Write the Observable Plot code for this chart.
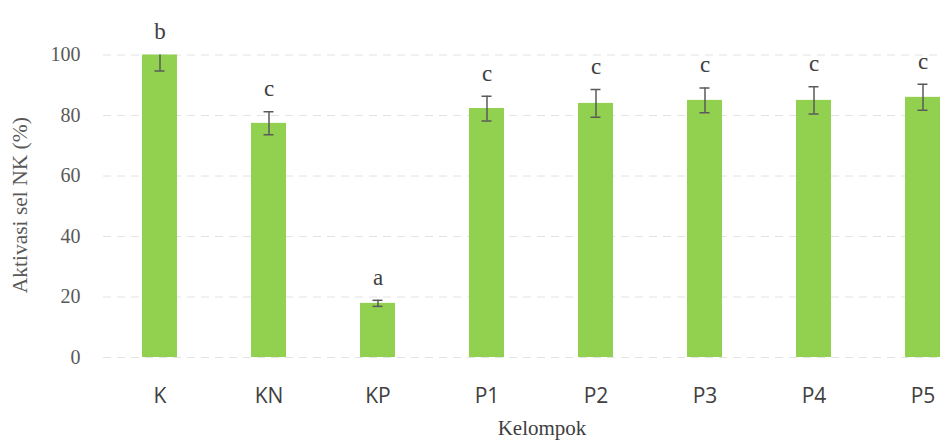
<!DOCTYPE html>
<html><head><meta charset="utf-8">
<script src="https://cdn.jsdelivr.net/npm/d3@7"></script>
<script src="https://cdn.jsdelivr.net/npm/@observablehq/plot@0.6"></script>
<style>html,body{margin:0;padding:0;background:#fff;overflow:hidden}</style>
</head><body><div id="chart"></div>
<script>
const groups = ["K", "KN", "KP", "P1", "P2", "P3", "P4", "P5"];
const means = [100, 77.4, 17.9, 82.3, 84.0, 85.0, 85.0, 86.0];
const sds = [5.3, 3.8, 1.0, 4.1, 4.6, 4.1, 4.5, 4.3];
const letters = ["b", "c", "a", "c", "c", "c", "c", "c"];
const yTicks = [0, 20, 40, 60, 80, 100];
const yLabel = "Aktivasi sel NK (%)";
const xLabel = "Kelompok";

const data = groups.map((g, i) => ({
  group: g, mean: means[i], sd: sds[i], letter: letters[i],
  lo: means[i] - sds[i], hi: means[i] + sds[i],
  top: Math.min(means[i] + sds[i], 100)
}));
const serif = "'Liberation Serif', 'Times New Roman', serif";
const errColor = "#5a5a5a";
const chart = Plot.plot({
  width: 942, height: 447,
  marginLeft: 103, marginRight: 0, marginTop: 54.5, marginBottom: 90,
  style: {background: "#fff", overflow: "hidden"},
  x: {domain: groups, range: [102.7, 979.5], paddingInner: 0.68, paddingOuter: 0.34},
  y: {domain: [0, 100], ticks: yTicks},
  marks: [
    Plot.gridY(yTicks, {stroke: "#e2e2e2", strokeOpacity: 1, strokeDasharray: "8,6"}),
    Plot.barY(data, {x: "group", y: "mean", fill: "#92D050"}),
    Plot.ruleX(data, {x: "group", y1: "lo", y2: "hi", stroke: errColor, strokeWidth: 1.5, clip: true}),
    Plot.tickY(data, {x: "group", y: "lo", insetLeft: 12.5, insetRight: 12.5, stroke: errColor, strokeWidth: 1.5, clip: true}),
    Plot.tickY(data, {x: "group", y: "hi", insetLeft: 12.5, insetRight: 12.5, stroke: errColor, strokeWidth: 1.5, clip: true}),
    Plot.text(data, {x: "group", y: "top", text: "letter", dy: -23, fontFamily: serif, fontSize: 23, fill: "#404040"}),
    Plot.axisY(yTicks, {tickSize: 0, tickPadding: 23, fontFamily: serif, fontSize: 20, color: "#595959", label: null}),
    Plot.axisX({tickSize: 0, tickPadding: 31, fontFamily: "'Open Sans', sans-serif", fontSize: 21, color: "#404040", label: null}),
    Plot.text([yLabel], {text: d => d, frameAnchor: "left", rotate: -90, textAnchor: "middle", lineAnchor: "middle", dx: -83, dy: -1, fontFamily: serif, fontSize: 21.5, fill: "#595959"}),
    Plot.text([xLabel], {text: d => d, frameAnchor: "bottom", dx: 19, dy: 77, fontFamily: serif, fontSize: 21, fill: "#404040"})
  ]
});
document.getElementById("chart").appendChild(chart);
</script>
</body></html>
